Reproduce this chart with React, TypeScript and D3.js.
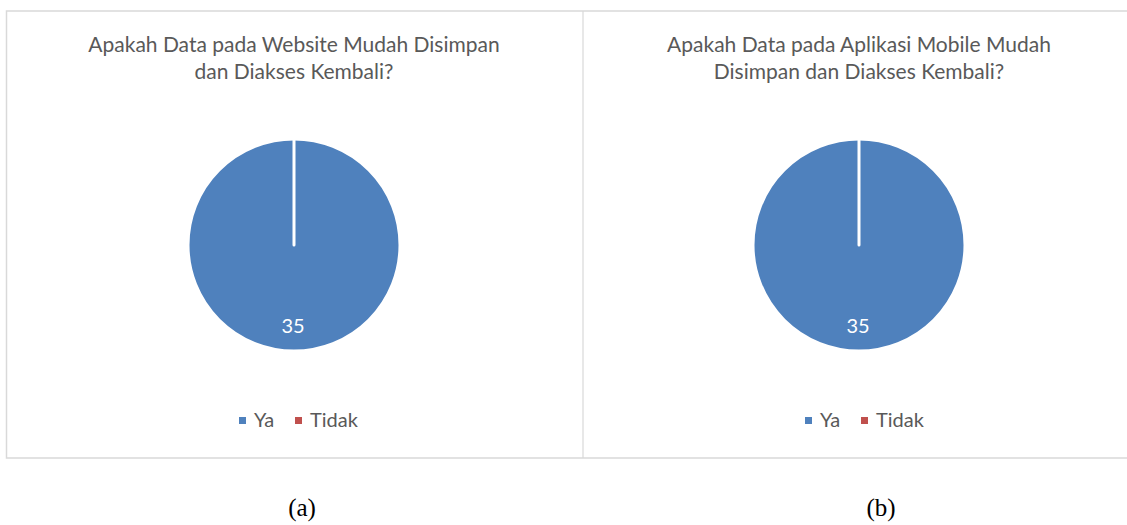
import React from 'react';
import * as d3 from 'd3';

const categories = ['Ya', 'Tidak'];
const websiteValues = [35, 0];
const mobileValues = [35, 0];
const colors = ['#4F81BD', '#C0504D'];

const titleA = ['Apakah Data pada Website Mudah Disimpan', 'dan Diakses Kembali?'];
const titleB = ['Apakah Data pada Aplikasi Mobile Mudah', 'Disimpan dan Diakses Kembali?'];
const captions = ['(a)', '(b)'];

const W = 1127;
const H = 525;
const font = 'Lato, "Open Sans", sans-serif';

type PanelProps = { cx: number; title: string[]; values: number[]; legendX: number };

const PiePanel = ({ cx, title, values, legendX }: PanelProps) => {
  const r = 106;
  const cy = 245;
  const pie = d3.pie<number>().sort(null)(values);
  const arc = d3.arc<d3.PieArcDatum<number>>().innerRadius(0).outerRadius(r);
  const labelArc = d3.arc<d3.PieArcDatum<number>>().innerRadius(r * 0.76).outerRadius(r * 0.76);

  // legend item offsets
  const legendScale = d3.scaleOrdinal<string, number>().domain(categories).range([0, 56]);

  return (
    <g>
      {title.map((t, i) => (
        <text key={i} x={cx} y={52 + i * 27} textAnchor="middle" fontFamily={font} fontSize={21} fill="#595959">
          {t}
        </text>
      ))}
      <g transform={`translate(${cx},${cy})`}>
        {pie.map((d, i) => (
          <path key={i} d={arc(d) || ''} fill={colors[i]} stroke="#fff" strokeWidth={3} strokeLinejoin="round" />
        ))}
        {pie.map((d, i) =>
          d.value > 0 ? (
            <text
              key={'l' + i}
              x={labelArc.centroid(d)[0] - 1}
              y={labelArc.centroid(d)[1]}
              dy="0.36em"
              textAnchor="middle"
              fontFamily={font}
              fontSize={20}
              fill="#fff"
            >
              {d.value}
            </text>
          ) : null
        )}
      </g>
      {categories.map((c, i) => (
        <g key={c} transform={`translate(${legendX + legendScale(c)},420)`}>
          <rect x={0} y={-3} width={7} height={7} fill={colors[i]} />
          <text x={15} y={0} dy="0.36em" fontFamily={font} fontSize={20} fill="#595959">
            {c}
          </text>
        </g>
      ))}
    </g>
  );
};

const App = () => {
  return (
    <svg width={W} height={H} style={{ position: 'absolute', left: 0, top: 0, background: '#fff' }}>
      <rect x={6.5} y={11} width={W + 10} height={447} fill="#fff" stroke="#d9d9d9" strokeWidth={1.5} />
      <line x1={583} x2={583} y1={11} y2={458} stroke="#d9d9d9" strokeWidth={1.2} />
      <PiePanel cx={294} title={titleA} values={websiteValues} legendX={239} />
      <PiePanel cx={859} title={titleB} values={mobileValues} legendX={805} />
      {captions.map((c, i) => (
        <text
          key={c}
          x={i === 0 ? 302 : 881}
          y={516}
          textAnchor="middle"
          fontFamily='"Liberation Serif", "Times New Roman", serif'
          fontSize={25}
          fill="#000"
        >
          {c}
        </text>
      ))}
    </svg>
  );
};

export default App;
